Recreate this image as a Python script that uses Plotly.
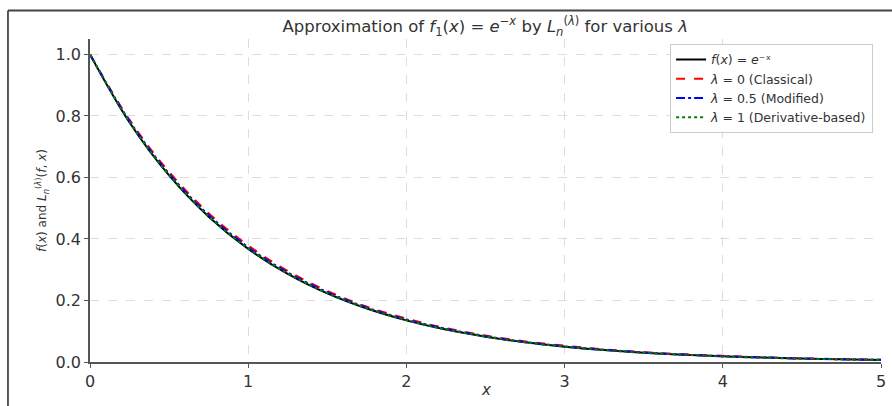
import plotly.graph_objects as go

x_vals = [0.0, 0.25, 0.5, 0.75, 1.0, 1.25, 1.5, 1.75, 2.0, 2.25, 2.5, 2.75, 3.0,
          3.25, 3.5, 3.75, 4.0, 4.25, 4.5, 4.75, 5.0]
f_exact = [1.0, 0.7788, 0.6065, 0.4724, 0.3679, 0.2865, 0.2231, 0.1738, 0.1353, 0.1054,
           0.0821, 0.0639, 0.0498, 0.0388, 0.0302, 0.0235, 0.0183, 0.0143, 0.0111, 0.0087, 0.0067]
L_classical = [1.0, 0.787, 0.618, 0.484, 0.379, 0.296, 0.231, 0.180, 0.141, 0.110,
               0.086, 0.067, 0.053, 0.041, 0.032, 0.025, 0.020, 0.015, 0.012, 0.009, 0.007]
L_modified = [1.0, 0.783, 0.612, 0.478, 0.373, 0.291, 0.227, 0.177, 0.138, 0.108,
              0.084, 0.065, 0.051, 0.040, 0.031, 0.024, 0.019, 0.015, 0.011, 0.009, 0.007]
L_derivative = [1.0, 0.780, 0.608, 0.474, 0.369, 0.288, 0.224, 0.175, 0.136, 0.106,
                0.083, 0.064, 0.050, 0.039, 0.030, 0.024, 0.018, 0.014, 0.011, 0.009, 0.007]

x_ticks = [0, 1, 2, 3, 4, 5]
y_ticks = [0.0, 0.2, 0.4, 0.6, 0.8, 1.0]
y_tick_labels = ["0.0", "0.2", "0.4", "0.6", "0.8", "1.0"]

names = ["<i>f</i>(<i>x</i>) = <i>e</i>⁻ˣ",
         "<i>λ</i> = 0 (Classical)",
         "<i>λ</i> = 0.5 (Modified)",
         "<i>λ</i> = 1 (Derivative-based)"]

fig = go.Figure()
series = [(f_exact, "black", "solid"), (L_classical, "red", "dash"),
          (L_modified, "blue", "dashdot"), (L_derivative, "green", "dot")]
for (ys, col, dash), nm in zip(series, names):
    fig.add_trace(go.Scatter(x=x_vals, y=ys, mode="lines", name=nm,
                             line=dict(color=col, dash=dash, width=2, shape="spline")))

font = "DejaVu Sans"
fig.update_layout(
    width=892, height=406,
    margin=dict(l=90, r=11, t=39, b=44, autoexpand=False),
    paper_bgcolor="white", plot_bgcolor="white",
    font=dict(family=font, color="#333333", size=14),
    title=dict(text="Approximation of <i>f</i><sub>1</sub>(<i>x</i>) = <i>e</i><sup>−<i>x</i></sup> by <i>L</i><sub><i>n</i></sub><sup>(<i>λ</i>)</sup> for various <i>λ</i>",
               x=0.544, xanchor="center", y=0.935, yanchor="middle",
               font=dict(size=16.5, color="#333333")),
    legend=dict(x=0.99, xanchor="right", y=0.985, yanchor="top",
                bgcolor="white", bordercolor="#cccccc", borderwidth=1,
                font=dict(size=12.5, color="#333333"), tracegroupgap=0,
                itemwidth=30),
    showlegend=True,
)
fig.update_xaxes(range=[0, 5], tickvals=x_ticks, showgrid=True, gridcolor="#dddddd",
                 griddash="dash", zeroline=False, showline=True, linecolor="#555555",
                 linewidth=1.5, ticks="outside", ticklen=4, tickcolor="#555555",
                 tickfont=dict(size=16), automargin=False)
fig.update_yaxes(range=[0, 1.05], tickvals=y_ticks, ticktext=y_tick_labels, showgrid=True,
                 gridcolor="#dddddd", griddash="dash", zeroline=False, showline=True,
                 linecolor="#555555", linewidth=1.5, ticks="outside", ticklen=4,
                 tickcolor="#555555", tickfont=dict(size=16), automargin=False,
                 title=dict(text="<i>f</i>(<i>x</i>) and <i>L</i><sub><i>n</i></sub><sup>(<i>λ</i>)</sup>(<i>f</i>, <i>x</i>)",
                            font=dict(size=12), standoff=6))
fig.add_annotation(text="<i>x</i>", xref="paper", yref="paper", x=0.5, y=-0.087,
                   xanchor="center", yanchor="middle", showarrow=False,
                   font=dict(size=15, color="#333333"))
# frame of the original image (left and top edges visible)
fig.add_shape(type="line", xref="paper", yref="paper", x0=-0.1037, x1=-0.1037,
              y0=-0.4, y1=1.088, line=dict(color="#222222", width=1.5))
fig.add_shape(type="line", xref="paper", yref="paper", x0=-0.1037, x1=1.2,
              y0=1.088, y1=1.088, line=dict(color="#444444", width=2))

fig.write_html("out.html", config={"displayModeBar": False},
               post_script="document.body.style.margin='0';document.body.style.overflow='hidden';")
